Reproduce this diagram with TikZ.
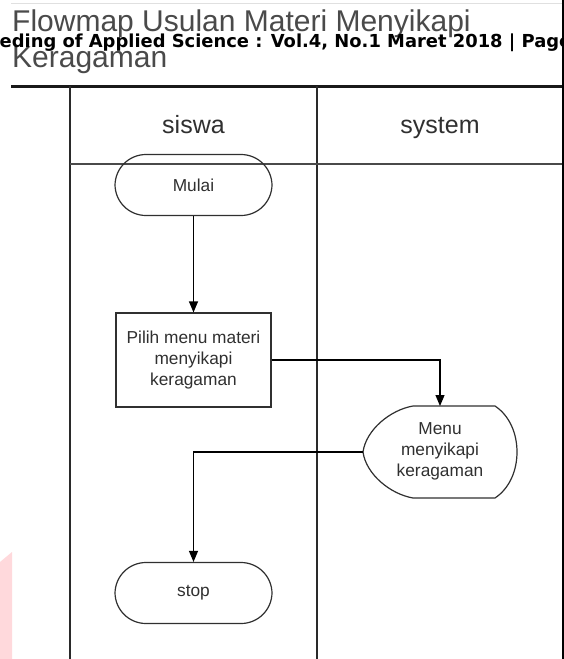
\documentclass[tikz,border=0pt]{standalone}
\usepackage{fontspec}
\setmainfont{Liberation Sans}
\newfontfamily\djbold{DejaVu Sans}[BoldFont=DejaVu Sans Bold]
\usetikzlibrary{arrows.meta}
\definecolor{ink}{HTML}{303030}
\definecolor{titlegray}{HTML}{4A4A4A}
\definecolor{lanegray}{HTML}{2A2A2A}
\definecolor{wmpink}{HTML}{FFD9DC}
\tikzset{
  lane/.style={draw=lanegray, line width=2pt},
  laneline/.style={draw=lanegray!85, line width=1.8pt},
  term/.style={draw=ink, line width=1.2pt, rectangle, rounded corners=31pt,
    minimum width=157pt, minimum height=61pt, inner sep=0pt,
    text=ink, font=\fontsize{17.3}{20}\selectfont},
  procbox/.style={draw=ink, line width=1.2pt, rectangle,
    minimum width=155pt, minimum height=94pt, inner sep=0pt, align=center,
    text=ink, font=\fontsize{17.3}{21}\selectfont},
  disptext/.style={inner sep=0pt, align=center, text=ink,
    font=\fontsize{17.3}{21}\selectfont},
  flow/.style={draw=black, line width=1.2pt, -{Triangle[width=9pt,length=11pt]}},
  lanehead/.style={inner sep=0pt, anchor=base, text=ink, font=\fontsize{25}{30}\selectfont},
  titletext/.style={inner sep=0pt, anchor=base west, text=titlegray, font=\fontsize{30}{36}\selectfont},
}
\begin{document}
\begin{tikzpicture}[x=1pt,y=-1pt]
\path[use as bounding box, clip] (0,0) rectangle (564,659);
\fill[white] (0,0) rectangle (564,659);
% watermark fragment
\fill[wmpink] (0,562) -- (12,552) -- (12,659) -- (0,659) -- cycle;
% faint top rule
\draw[black!12, line width=1pt] (11,3) -- (564,3);
% title
\node[titletext] (title1) at (12,31) {Flowmap Usulan Materi Menyikapi};
\node[titletext] (title2) at (12,67) {Keragaman};
\node[inner sep=0pt, anchor=base west, text=black, font=\djbold\bfseries\fontsize{17.9}{21}\selectfont] (header) at (-0.5,47.5) {eding of Applied Science : Vol.4, No.1 Maret 2018 | Page};
% swimlane frame
\draw[draw=black!90, line width=3pt] (11,86) -- (564,86);
\draw[lane] (70,86) -- (70,659);
\draw[lane] (317,86) -- (317,659);
\draw[laneline] (70,164) -- (563,164);
\draw[draw=black, line width=1.6pt] (563,0) -- (563,659);
\node[lanehead] (siswa) at (193.5,133) {siswa};
\node[lanehead] (system) at (440,133) {system};
% nodes
\node[term] (mulai) at (193.5,185) {Mulai};
\node[procbox] (pilih) at (193.5,360) {Pilih menu materi\\menyikapi\\keragaman};
\node[disptext] (menu) at (440,451) {Menu\\menyikapi\\keragaman};
\draw[draw=ink, line width=1.2pt]
  (413,406) -- (495,406)
  .. controls (510,416) and (517,434) .. (517,452)
  .. controls (517,470) and (510,488) .. (495,498)
  -- (413,498)
  .. controls (390,494) and (366,474) .. (363,452)
  .. controls (366,430) and (390,410) .. (413,406) -- cycle;
\coordinate (menuN) at (440,406);
\coordinate (menuW) at (363,452);
\node[term] (stop) at (193.5,593) {stop};
% connectors
\draw[flow] (mulai) -- (pilih);
\draw[flow] (pilih.east) -| (menuN);
\draw[flow] (menuW) -| (stop.north);
\end{tikzpicture}
\end{document}
